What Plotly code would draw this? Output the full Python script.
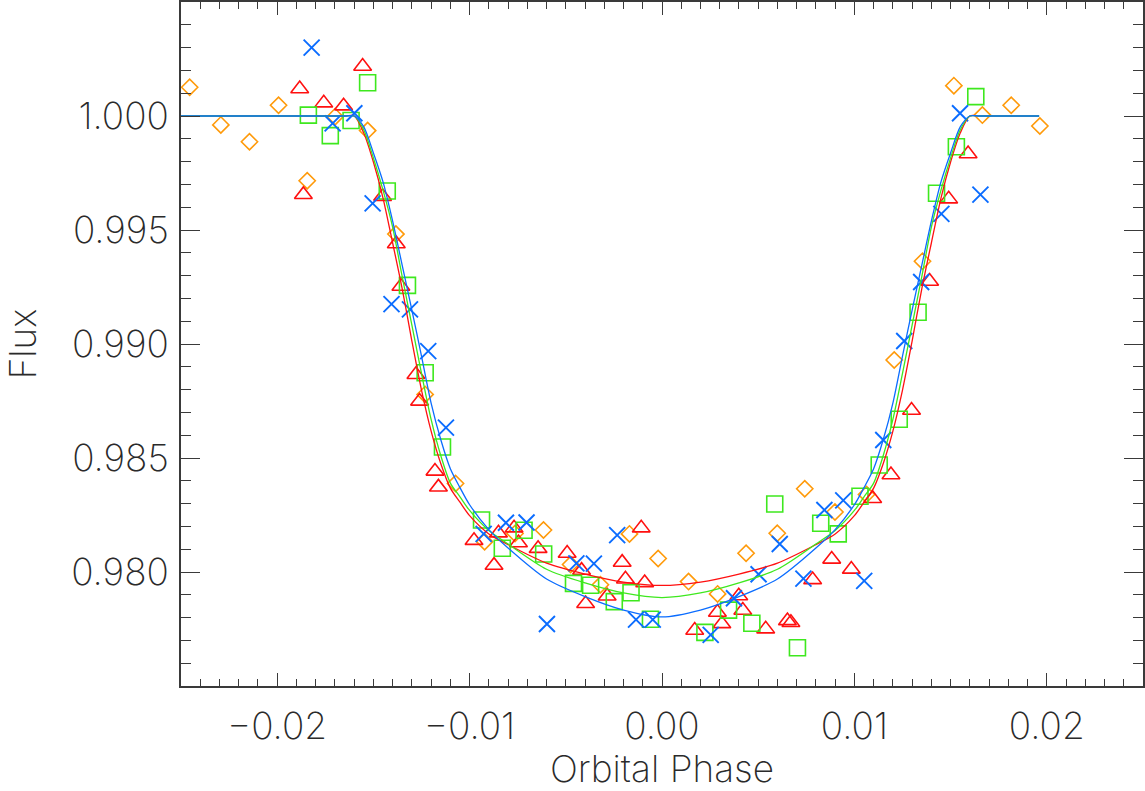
import plotly.graph_objects as go

# ---------------- data ----------------
orange_phase = [-0.02455, -0.02293, -0.02144, -0.01993, -0.01844, -0.01699, -0.01530, -0.01383,
                -0.01231, -0.01073, -0.00922, -0.00764, -0.00616, -0.00475, -0.00320, -0.00169,
                -0.00020, 0.00138, 0.00289, 0.00437, 0.00599, 0.00742, 0.00899, 0.01063,
                0.01207, 0.01354, 0.01517, 0.01665, 0.01815, 0.01964]
orange_flux = [1.00126, 0.99961, 0.99887, 1.00047, 0.99716, 0.99997, 0.99936, 0.99482,
               0.98779, 0.98388, 0.98133, 0.98169, 0.98184, 0.98033, 0.97944, 0.98167,
               0.98059, 0.97958, 0.97904, 0.98082, 0.98170, 0.98365, 0.98263, 0.98340,
               0.98930, 0.99363, 1.00133, 1.00004, 1.00047, 0.99956]

red_phase = [-0.01883, -0.01556, -0.01758, -0.01655, -0.01864, -0.01452, -0.01381, -0.01357,
             -0.01279, -0.01260, -0.01180, -0.01162, -0.00977, -0.00873, -0.00850, -0.00769,
             -0.00746, -0.00644, -0.00493, -0.00418, -0.00397, -0.00285, -0.00207, -0.00190,
             -0.00108, -0.00090, 0.00170, 0.00288, 0.00311, 0.00399, 0.00420, 0.00539,
             0.00652, 0.00670, 0.00783, 0.00882, 0.00984, 0.01095, 0.01190, 0.01297,
             0.01391, 0.01490, 0.01591]
red_flux = [1.00119, 1.00218, 1.00057, 1.00044, 0.99655, 0.99647, 0.99439, 0.99253,
            0.98866, 0.98749, 0.98442, 0.98372, 0.98138, 0.98029, 0.98171, 0.98193,
            0.98128, 0.98103, 0.98082, 0.98007, 0.97861, 0.97894, 0.98042, 0.97969,
            0.98193, 0.97953, 0.97744, 0.97823, 0.97773, 0.97895, 0.97832, 0.97750,
            0.97786, 0.97778, 0.97966, 0.98056, 0.98012, 0.98322, 0.98426, 0.98709,
            0.99275, 0.99636, 0.99834]

green_phase = [-0.01838, -0.01530, -0.01724, -0.01616, -0.01428, -0.01323, -0.01231, -0.01141,
               -0.00938, -0.00830, -0.00717, -0.00615, -0.00460, -0.00371, -0.00248, -0.00161,
               -0.00060, 0.00223, 0.00346, 0.00467, 0.00586, 0.00704, 0.00825, 0.00916,
               0.01029, 0.01129, 0.01233, 0.01331, 0.01427, 0.01530, 0.01631]
green_flux = [1.00004, 1.00146, 0.99914, 0.99980, 0.99671, 0.99257, 0.98874, 0.98548,
              0.98228, 0.98104, 0.98183, 0.98079, 0.97950, 0.97942, 0.97870, 0.97909,
              0.97793, 0.97735, 0.97833, 0.97775, 0.98298, 0.97668, 0.98214, 0.98167,
              0.98332, 0.98469, 0.98670, 0.99139, 0.99661, 0.99865, 1.00085]

blue_phase = [-0.01821, -0.01712, -0.01599, -0.01504, -0.01406, -0.01310, -0.01215, -0.01123,
              -0.00927, -0.00811, -0.00704, -0.00598, -0.00445, -0.00354, -0.00233, -0.00135,
              -0.00048, 0.00253, 0.00374, 0.00502, 0.00612, 0.00735, 0.00844, 0.00942,
              0.01051, 0.01150, 0.01259, 0.01347, 0.01452, 0.01549, 0.01655]
blue_flux = [1.00300, 0.99968, 1.00012, 0.99617, 0.99175, 0.99152, 0.98969, 0.98633,
             0.98167, 0.98216, 0.98217, 0.97772, 0.98038, 0.98037, 0.98162, 0.97791,
             0.97791, 0.97724, 0.97885, 0.97990, 0.98123, 0.97971, 0.98272, 0.98314,
             0.97961, 0.98579, 0.99013, 0.99272, 0.99571, 1.00012, 0.99655]

# model curves
model_phase = [-0.025, -0.0165, -0.016, -0.0155, -0.015, -0.0145, -0.014, -0.0135, -0.013,
               -0.0125, -0.012, -0.0115, -0.011, -0.0105, -0.010, -0.009, -0.008, -0.006,
               -0.004, -0.002, 0.0, 0.002, 0.004, 0.006, 0.008, 0.009, 0.010, 0.0105, 0.011,
               0.0115, 0.012, 0.0125, 0.013, 0.0135, 0.014, 0.0145, 0.015, 0.0155, 0.016,
               0.0165, 0.0196]
model_red = [1.0, 1.0, 1.0, 0.99925, 0.99798, 0.99640, 0.99443, 0.99241, 0.99013,
             0.98798, 0.98618, 0.98476, 0.98368, 0.98306, 0.98247, 0.98167, 0.98120, 0.98039,
             0.97991, 0.97956, 0.97941, 0.97956, 0.97991, 0.98039, 0.98120, 0.98167, 0.98247, 0.98306, 0.98368,
             0.98476, 0.98618, 0.98798, 0.99013, 0.99241, 0.99443, 0.99640, 0.99798, 0.99925, 1.0,
             1.0, 1.0]
model_green = [1.0, 1.0, 1.0, 0.99939, 0.99816, 0.99675, 0.99513, 0.99294, 0.99083,
               0.98871, 0.98669, 0.98511, 0.98390, 0.98330, 0.98270, 0.98182, 0.98123, 0.98012,
               0.97952, 0.97908, 0.97888, 0.97908, 0.97952, 0.98012, 0.98123, 0.98182, 0.98270, 0.98330, 0.98390,
               0.98511, 0.98669, 0.98871, 0.99083, 0.99294, 0.99513, 0.99675, 0.99816, 0.99939, 1.0,
               1.0, 1.0]
model_blue = [1.0, 1.0, 1.0, 0.99952, 0.99838, 0.99711, 0.99539, 0.99344, 0.99149,
              0.98947, 0.98741, 0.98581, 0.98453, 0.98370, 0.98295, 0.98186, 0.98105, 0.97969,
              0.97892, 0.97833, 0.97803, 0.97833, 0.97892, 0.97969, 0.98105, 0.98186, 0.98295, 0.98370, 0.98453,
              0.98581, 0.98741, 0.98947, 0.99149, 0.99344, 0.99539, 0.99711, 0.99838, 0.99952, 1.0,
              1.0, 1.0]

x_ticks = [-0.02, -0.01, 0.00, 0.01, 0.02]
y_ticks = [0.980, 0.985, 0.990, 0.995, 1.000]

# ---------------- styling ----------------
ORANGE = "#ff9a0a"
RED = "#ff1010"
GREEN = "#3ee81e"
BLUE = "#0a6cff"
AXIS = "#3a3a3a"
FONT = dict(family="Inter, Lato, sans-serif", size=37, color="#2a2a2a", weight=200)

fig = go.Figure()

fig.add_trace(go.Scatter(x=orange_phase, y=orange_flux, mode="markers",
                         marker=dict(symbol="diamond-open", size=12.5, color=ORANGE,
                                     line=dict(width=1.6, color=ORANGE))))
fig.add_trace(go.Scatter(x=red_phase, y=red_flux, mode="markers",
                         marker=dict(symbol="triangle-up-open", size=15.5, color=RED,
                                     line=dict(width=1.6, color=RED))))
fig.add_trace(go.Scatter(x=green_phase, y=green_flux, mode="markers",
                         marker=dict(symbol="square-open", size=16, color=GREEN,
                                     line=dict(width=1.6, color=GREEN))))
fig.add_trace(go.Scatter(x=blue_phase, y=blue_flux, mode="markers",
                         marker=dict(symbol="x-thin-open", size=16, color=BLUE,
                                     line=dict(width=1.9, color=BLUE))))

for yy, col in [(model_red, RED), (model_green, GREEN), (model_blue, BLUE)]:
    fig.add_trace(go.Scatter(x=model_phase, y=yy, mode="lines",
                             line=dict(color=col, width=1.3, shape="spline", smoothing=0.8)))

fig.update_layout(
    width=1145, height=791,
    margin=dict(l=181, r=0, t=2, b=105),
    paper_bgcolor="white", plot_bgcolor="white",
    showlegend=False,
    font=FONT,
)

fig.update_xaxes(
    range=[-0.025, 0.025], tickvals=x_ticks, tickformat=".2f",
    ticks="inside", ticklen=13, tickwidth=1.4, tickcolor=AXIS,
    showline=True, linecolor=AXIS, linewidth=1.5, mirror="allticks",
    showgrid=False, zeroline=False,
    minor=dict(dtick=0.001, tick0=0, ticks="inside", ticklen=7, tickwidth=1.2,
               tickcolor=AXIS, showgrid=False),
    tickfont=FONT, ticklabelstandoff=7,
    title=dict(text="Orbital Phase", font=FONT, standoff=11),
)
fig.update_yaxes(
    range=[0.975, 1.005], tickvals=y_ticks, tickformat=".3f",
    ticks="inside", ticklen=19, tickwidth=1.4, tickcolor=AXIS,
    showline=True, linecolor=AXIS, linewidth=1.5, mirror="allticks",
    showgrid=False, zeroline=False,
    minor=dict(dtick=0.001, tick0=0, ticks="inside", ticklen=10, tickwidth=1.2,
               tickcolor=AXIS, showgrid=False),
    tickfont=FONT, ticklabelstandoff=3,
    title=dict(text="Flux", font=FONT, standoff=26),
)

fig.write_html("out.html")
